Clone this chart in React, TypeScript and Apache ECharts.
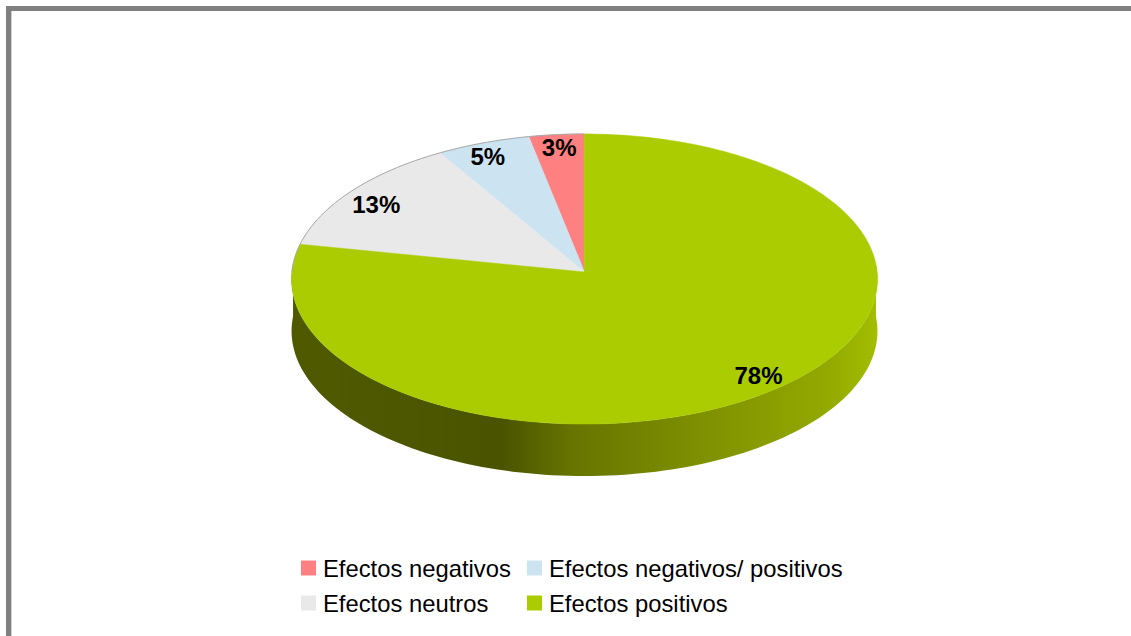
import React, { useEffect, useRef } from "react";
import * as echarts from "echarts";

const categories = ["Efectos negativos", "Efectos negativos/ positivos", "Efectos neutros", "Efectos positivos"];
const shares = [3.2, 5.4, 13.3, 78.1];
const sliceColors = ["#ff8080", "#cce3f1", "#e9e9e9", "#aacc00"];
const labelNudges = [[0, 0], [-5, 1], [2, 6], [1, -1]];
const legendColumns = [[categories[0], categories[2]], [categories[1], categories[3]]];

const CX = 584.5, CY = 272, RX = 292.6, RY = 144.7, P = 0.0483, DEPTH = 52;
const FONT = "'Liberation Sans', Arial, sans-serif";

// projects a point of the pie's disc (angle counter-clockwise from 12 o'clock, r as a fraction of radius)
function project(deg: number, r = 1, dy = 0): number[] {
  const a = (deg * Math.PI) / 180;
  const u = -r * Math.sin(a), v = r * Math.cos(a);
  const d = 1 + P * v;
  return [CX + (RX * u) / d, CY - (RY * v) / d + dy];
}
function arc(from: number, to: number, dy = 0): number[][] {
  const n = Math.max(2, Math.ceil(Math.abs(to - from) / 1.5));
  const pts: number[][] = [];
  for (let i = 0; i <= n; i++) pts.push(project(from + ((to - from) * i) / n, 1, dy));
  return pts;
}

const renderSlice = (params: any, api: any) => {
  const share = api.value(0) as number;
  const start = api.value(1) as number;
  const a0 = (start / 100) * 360;
  const a1 = ((start + share) / 100) * 360;
  const color = sliceColors[params.seriesIndex];
  const children: any[] = [];
  // side wall: the part of the slice's rim that faces the viewer
  const w0 = Math.max(a0, 87), w1 = Math.min(a1, 273);
  if (w1 > w0) {
    const top = arc(w0, w1);
    const bottom = arc(w1, w0, DEPTH);
    children.push({
      type: "polygon",
      shape: { points: [...top, ...bottom] },
      style: {
        fill: new echarts.graphic.LinearGradient(0, 0, 1, 0, [
          { offset: 0, color: "#4f5a00" },
          { offset: 0.36, color: "#4a5400" },
          { offset: 0.48, color: "#677500" },
          { offset: 0.7, color: "#7f9000" },
          { offset: 0.92, color: "#94aa00" },
          { offset: 1, color: "#a2be00" },
        ]),
      },
    });
  }
  children.push({
    type: "polygon",
    shape: { points: [project(0, 0), ...arc(a0, a1)] },
    style: { fill: color, stroke: color, lineWidth: 0.5 },
  });
  // thin grey rim along the back of the disc
  const backA = a0 < 90 ? a0 : a1 > 270 ? Math.max(a0, 270) : null;
  const backB = a0 < 90 ? Math.min(a1, 90) : a1 > 270 ? a1 : null;
  if (backA !== null && backB !== null) {
    children.push({
      type: "polyline",
      shape: { points: arc(backA, backB) },
      style: { fill: "none", stroke: "#a8a8a8", lineWidth: 1 },
    });
  }
  const lab = project((a0 + a1) / 2, 0.9);
  const nudge = labelNudges[params.seriesIndex];
  children.push({
    type: "text",
    z2: 100,
    style: {
      x: lab[0] + nudge[0],
      y: lab[1] + nudge[1],
      text: Math.round(share) + "%",
      align: "center",
      verticalAlign: "middle",
      fill: "#000000",
      font: `bold 24px ${FONT}`,
    },
  });
  return { type: "group", children };
};

export default function App() {
  const ref = useRef<HTMLDivElement>(null);
  useEffect(() => {
    if (!ref.current) return;
    document.body.style.margin = "0";
    const chart = echarts.init(ref.current, undefined, { renderer: "svg" });
    let cum = 0;
    const series = categories.map((name, i) => {
      const start = cum;
      cum += shares[i];
      return {
        type: "custom",
        name,
        coordinateSystem: "none",
        renderItem: renderSlice,
        silent: true,
        itemStyle: { color: sliceColors[i] },
        data: [[shares[i], start]],
      };
    });
    const legendBase = {
      orient: "vertical",
      top: 556,
      icon: "rect",
      itemWidth: 15,
      itemHeight: 15,
      itemGap: 11,
      selectedMode: false,
      padding: 0,
      textStyle: { fontFamily: FONT, fontSize: 23.8, color: "#000000", padding: [0, 0, 0, 2] },
    };
    chart.setOption({
      animation: false,
      backgroundColor: "#ffffff",
      legend: [
        { ...legendBase, left: 301, data: legendColumns[0] },
        { ...legendBase, left: 527, data: legendColumns[1] },
      ],
      graphic: [
        { type: "rect", shape: { x: 6, y: 6, width: 1125, height: 5 }, style: { fill: "#808080" } },
        { type: "rect", shape: { x: 6, y: 6, width: 5, height: 630 }, style: { fill: "#808080" } },
        { type: "rect", shape: { x: 11, y: 11, width: 1, height: 625 }, style: { fill: "#cfcfcf" } },
      ],
      series,
    });
    return () => chart.dispose();
  }, []);
  return <div ref={ref} style={{ width: 1131, height: 636 }} />;
}
